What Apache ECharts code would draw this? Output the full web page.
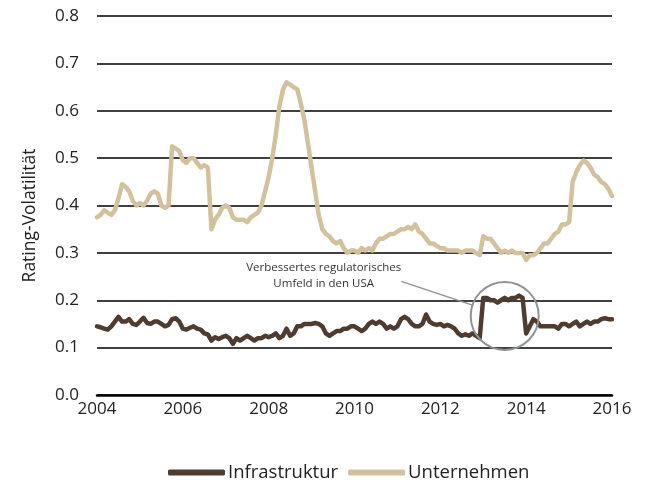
<!DOCTYPE html>
<html>
<head>
<meta charset="utf-8">
<script src="https://cdn.jsdelivr.net/npm/echarts@6/dist/echarts.min.js"></script>
<style>
  html, body { margin: 0; padding: 0; background: #fff; }
  #chart { width: 645px; height: 484px; }
</style>
</head>
<body>
<div id="chart"></div>
<script>
// Monthly series, January 2004 through January 2016
const startYear = 2004;
const yearTicks = [2004, 2006, 2008, 2010, 2012, 2014, 2016];

const infrastruktur = [
  // 2004
  0.145, 0.143, 0.140, 0.138, 0.145, 0.155, 0.165, 0.155, 0.155, 0.160, 0.150, 0.148,
  // 2005
  0.155, 0.163, 0.152, 0.150, 0.155, 0.155, 0.150, 0.145, 0.148, 0.160, 0.162, 0.155,
  // 2006
  0.140, 0.138, 0.142, 0.145, 0.140, 0.138, 0.130, 0.128, 0.115, 0.122, 0.118, 0.122,
  // 2007
  0.125, 0.120, 0.108, 0.120, 0.115, 0.120, 0.125, 0.120, 0.115, 0.120, 0.120, 0.125,
  // 2008
  0.122, 0.125, 0.130, 0.120, 0.125, 0.140, 0.125, 0.130, 0.145, 0.145, 0.150, 0.150,
  // 2009
  0.150, 0.152, 0.150, 0.145, 0.130, 0.125, 0.130, 0.135, 0.135, 0.140, 0.140, 0.145,
  // 2010
  0.145, 0.140, 0.135, 0.140, 0.150, 0.155, 0.150, 0.155, 0.150, 0.140, 0.145, 0.140,
  // 2011
  0.145, 0.160, 0.165, 0.160, 0.150, 0.145, 0.145, 0.150, 0.170, 0.155, 0.150, 0.148,
  // 2012
  0.150, 0.145, 0.148, 0.145, 0.140, 0.130, 0.125, 0.128, 0.125, 0.130, 0.125, 0.120,
  // 2013
  0.205, 0.205, 0.200, 0.200, 0.195, 0.200, 0.205, 0.200, 0.205, 0.205, 0.210, 0.205,
  // 2014
  0.130, 0.145, 0.160, 0.155, 0.145, 0.145, 0.145, 0.145, 0.145, 0.140, 0.150, 0.150,
  // 2015
  0.145, 0.150, 0.155, 0.145, 0.150, 0.155, 0.150, 0.155, 0.155, 0.160, 0.162, 0.160,
  // 2016
  0.160
];

const unternehmen = [
  // 2004
  0.375, 0.380, 0.390, 0.385, 0.380, 0.390, 0.415, 0.445, 0.440, 0.430, 0.410, 0.400,
  // 2005
  0.405, 0.400, 0.410, 0.425, 0.430, 0.425, 0.400, 0.395, 0.400, 0.525, 0.520, 0.515,
  // 2006
  0.495, 0.490, 0.500, 0.500, 0.490, 0.480, 0.485, 0.480, 0.350, 0.370, 0.380, 0.395,
  // 2007
  0.400, 0.395, 0.375, 0.370, 0.370, 0.370, 0.365, 0.375, 0.380, 0.385, 0.400, 0.430,
  // 2008
  0.460, 0.500, 0.550, 0.610, 0.645, 0.660, 0.655, 0.650, 0.645, 0.615, 0.580, 0.530,
  // 2009
  0.480, 0.430, 0.380, 0.350, 0.340, 0.335, 0.325, 0.320, 0.325, 0.310, 0.300, 0.305,
  // 2010
  0.305, 0.300, 0.310, 0.305, 0.310, 0.305, 0.320, 0.330, 0.330, 0.335, 0.340, 0.340,
  // 2011
  0.345, 0.350, 0.350, 0.355, 0.350, 0.360, 0.345, 0.340, 0.330, 0.320, 0.320, 0.315,
  // 2012
  0.310, 0.310, 0.305, 0.305, 0.305, 0.305, 0.300, 0.305, 0.305, 0.305, 0.300, 0.295,
  // 2013
  0.335, 0.330, 0.330, 0.320, 0.310, 0.300, 0.305, 0.300, 0.305, 0.300, 0.300, 0.300,
  // 2014
  0.285, 0.295, 0.295, 0.300, 0.310, 0.320, 0.320, 0.330, 0.340, 0.345, 0.360, 0.360,
  // 2015
  0.365, 0.450, 0.470, 0.485, 0.495, 0.490, 0.480, 0.465, 0.460, 0.450, 0.445, 0.435,
  // 2016
  0.420
];

const seriesNames = ['Infrastruktur', 'Unternehmen'];
const yAxisTitle = 'Rating-Volatilität';
const noteLines = ['Verbessertes regulatorisches', 'Umfeld in den USA'];
// Highlighted period (centre of the ring, in data units)
const noteFocus = [2013.5, 0.167];

const colors = ['#4f3c2f', '#d3c19d'];
const fontFamily = '"Open Sans", "Noto Sans", sans-serif';

function toPairs(values) {
  return values.map((v, i) => [startYear + i / 12, v]);
}

const chart = echarts.init(document.getElementById('chart'), null, { renderer: 'canvas' });

chart.setOption({
  animation: false,
  textStyle: { fontFamily: fontFamily },
  grid: { left: 97, right: 33, top: 16, bottom: 89, containLabel: false },
  legend: {
    bottom: -3,
    left: 163,
    icon: 'roundRect',
    itemWidth: 57,
    itemHeight: 6,
    itemGap: 10,
    textStyle: { fontSize: 18.5, color: '#222', fontFamily: fontFamily, padding: [0, 0, 0, -2] },
    data: seriesNames
  },
  xAxis: {
    type: 'value',
    min: yearTicks[0],
    max: yearTicks[yearTicks.length - 1],
    interval: 2,
    axisLine: { show: true, lineStyle: { color: '#000', width: 2.5 } },
    axisTick: { show: false },
    splitLine: { show: false },
    axisLabel: {
      fontSize: 17,
      color: '#222',
      margin: 6,
      formatter: v => String(Math.round(v))
    }
  },
  yAxis: {
    type: 'value',
    min: 0,
    max: 0.8,
    interval: 0.1,
    name: yAxisTitle,
    nameLocation: 'middle',
    nameGap: 58,
    nameRotate: 90,
    nameTextStyle: { fontSize: 17.5, color: '#222', padding: [0, 0, 0, -20] },
    axisLine: { show: false },
    axisTick: { show: false },
    splitLine: { show: true, lineStyle: { color: '#000', width: 1.6 } },
    axisLabel: {
      fontSize: 17,
      color: '#222',
      margin: 18,
      formatter: v => v.toFixed(1)
    }
  },
  series: [
    {
      name: seriesNames[0],
      type: 'line',
      data: toPairs(infrastruktur),
      showSymbol: false,
      symbol: 'none',
      lineStyle: { color: colors[0], width: 4.5, cap: 'round', join: 'round' },
      itemStyle: { color: colors[0] },
      z: 3
    },
    {
      name: seriesNames[1],
      type: 'line',
      data: toPairs(unternehmen),
      showSymbol: false,
      symbol: 'none',
      lineStyle: { color: colors[1], width: 4.5, cap: 'round', join: 'round' },
      itemStyle: { color: colors[1] },
      z: 2
    }
  ]
});

// Annotation: ring around the highlighted period, leader line and note text
function drawNote() {
  const c = chart.convertToPixel({ gridIndex: 0 }, noteFocus);
  const r = 34;
  const textX = c[0] - 181;
  const textY = c[1] - 40;
  const lineStart = [textX + 70, textY + 3];
  const dx = lineStart[0] - c[0], dy = lineStart[1] - c[1];
  const len = Math.sqrt(dx * dx + dy * dy);
  const lineEnd = [c[0] + dx / len * r, c[1] + dy / len * r];
  chart.setOption({
    graphic: [
      {
        type: 'circle',
        shape: { cx: c[0], cy: c[1], r: r },
        style: { fill: 'none', stroke: '#8e9397', lineWidth: 2 },
        z: 10
      },
      {
        type: 'line',
        shape: { x1: lineStart[0], y1: lineStart[1], x2: lineEnd[0], y2: lineEnd[1] },
        style: { stroke: '#8e9397', lineWidth: 1.5 },
        z: 10
      },
      {
        type: 'text',
        x: textX,
        y: textY,
        style: {
          text: noteLines.join('\n'),
          font: '11.5px ' + fontFamily,
          fill: '#333',
          align: 'center',
          verticalAlign: 'middle',
          lineHeight: 16,
          backgroundColor: '#fff'
        },
        z: 11
      }
    ]
  });
}
drawNote();
</script>
</body>
</html>
